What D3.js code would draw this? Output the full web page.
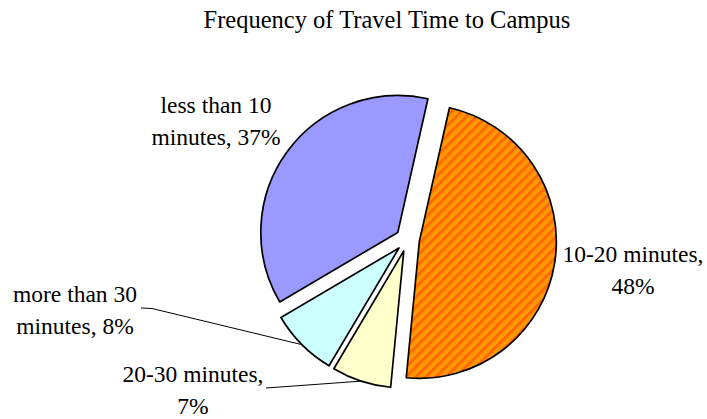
<!DOCTYPE html>
<html>
<head>
<meta charset="utf-8">
<script src="https://cdn.jsdelivr.net/npm/d3@7/dist/d3.min.js"></script>
<style>
  html, body { margin: 0; padding: 0; background: #fff; }
  svg { display: block; }
  text { font-family: "Liberation Serif", "Times New Roman", serif; fill: #000; }
</style>
</head>
<body>
<svg id="chart" width="707" height="419"></svg>
<script>
// ---- data ----
const categories = ["10-20 minutes", "20-30 minutes", "more than 30 minutes", "less than 10 minutes"];
const values = [48, 7, 8, 37];
const labelLines = [
  ["10-20 minutes,", "48%"],
  ["20-30 minutes,", "7%"],
  ["more than 30", "minutes, 8%"],
  ["less than 10", "minutes, 37%"]
];
const title = "Frequency of Travel Time to Campus";

// ---- layout / style ----
const W = 707, H = 419;
const cx = 407.5, cy = 239.5, R = 137, explode = 12;
const firstSliceAngle = 12.7 * Math.PI / 180;
const fills = ["url(#stripes)", "#FFFFCC", "#CCFFFF", "#9999FF"];
// label anchor (centre x, first baseline y), and optional leader line start
const labelLayout = [
  { x: 633, y: 262, leader: null },
  { x: 193, y: 382, leader: [[266, 388]] },
  { x: 75,  y: 302, leader: [[141, 308], [152, 308.5]] },
  { x: 216, y: 113, leader: null }
];
const lineGap = 32;

const svg = d3.select("#chart");
const defs = svg.append("defs");
const P = 7.07;
const pat = defs.append("pattern")
  .attr("id", "stripes")
  .attr("patternUnits", "userSpaceOnUse")
  .attr("width", P).attr("height", P)
  .attr("patternTransform", "rotate(45)");
pat.append("rect").attr("width", P).attr("height", P).attr("fill", "#FF9900");
pat.append("rect").attr("width", 3.1).attr("height", P).attr("fill", "#FF6A00");

svg.append("text")
  .attr("x", 387).attr("y", 28)
  .attr("text-anchor", "middle")
  .style("font-size", "24.5px")
  .text(title);

const pie = d3.pie().sort(null).value(d => d)
  .startAngle(firstSliceAngle).endAngle(firstSliceAngle + 2 * Math.PI);
const arcs = pie(values);
const arc = d3.arc().innerRadius(0).outerRadius(R);

const g = svg.append("g").attr("transform", `translate(${cx},${cy})`);

arcs.forEach((a, i) => {
  const mid = (a.startAngle + a.endAngle) / 2;
  const dx = explode * Math.sin(mid), dy = -explode * Math.cos(mid);
  g.append("path")
    .attr("d", arc(a))
    .attr("transform", `translate(${dx},${dy})`)
    .attr("fill", fills[i])
    .attr("stroke", "#000")
    .attr("stroke-width", 1.7)
    .attr("stroke-linejoin", "round");
});

// leader lines
arcs.forEach((a, i) => {
  const L = labelLayout[i];
  if (!L.leader) return;
  const mid = (a.startAngle + a.endAngle) / 2;
  const rr = R + explode;
  const end = [cx + rr * Math.sin(mid), cy - rr * Math.cos(mid)];
  const pts = L.leader.concat([end]);
  svg.append("path")
    .attr("d", d3.line()(pts))
    .attr("fill", "none")
    .attr("stroke", "#000")
    .attr("stroke-width", 1);
});

// labels
labelLines.forEach((lines, i) => {
  const L = labelLayout[i];
  const t = svg.append("text")
    .attr("text-anchor", "middle")
    .style("font-size", "23.5px");
  lines.forEach((ln, k) => {
    t.append("tspan").attr("x", L.x).attr("y", L.y + k * lineGap).text(ln);
  });
});
</script>
</body>
</html>
